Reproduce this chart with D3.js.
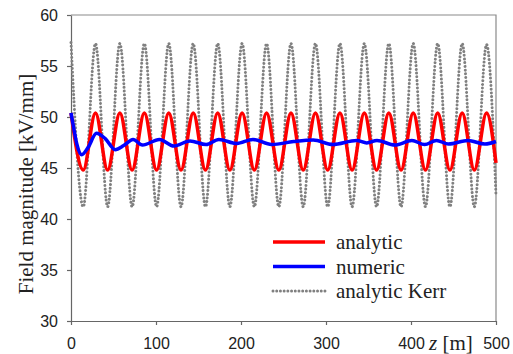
<!DOCTYPE html>
<html>
<head>
<meta charset="utf-8">
<script src="https://cdnjs.cloudflare.com/ajax/libs/d3/7.8.5/d3.min.js"></script>
<style>
body { margin: 0; background: #fff; }
</style>
</head>
<body>
<svg id="chart" width="513" height="354"></svg>
<script>
// peaks / troughs of the analytic solutions, z in m
var extremaZ = [0, 14.4, 28.8, 43.1, 57.5, 71.9, 86.3, 100.7, 115.0, 129.4, 143.8, 158.2,
	172.6, 186.9, 201.3, 215.7, 230.1, 244.5, 258.8, 273.2, 287.6, 302.0, 316.4, 330.7,
	345.1, 359.5, 373.9, 388.3, 402.6, 417.0, 431.4, 445.8, 460.2, 474.5, 488.9, 500];

var analyticVals = [50.4, 44.8, 50.4, 44.8, 50.4, 44.8, 50.4, 44.8, 50.4, 44.8, 50.4, 44.8,
	50.4, 44.8, 50.4, 44.8, 50.4, 44.8, 50.4, 44.8, 50.4, 44.8, 50.4, 44.8,
	50.4, 44.8, 50.4, 44.8, 50.4, 44.8, 50.4, 44.8, 50.4, 44.8, 50.4, 45.5];

var kerrVals = [57.3, 41.2, 57.2, 41.2, 57.2, 41.2, 57.2, 41.2, 57.2, 41.2, 57.2, 41.2,
	57.2, 41.2, 57.2, 41.2, 57.2, 41.2, 57.2, 41.2, 57.2, 41.2, 57.2, 41.2,
	57.2, 41.2, 57.2, 41.2, 57.2, 41.2, 57.2, 41.2, 57.2, 41.2, 57.1, 42.3];

var numericZ = [0, 3, 7, 12.6, 20, 30, 40, 52, 62, 73, 84, 104, 121, 140, 159, 174, 195,
	214, 236, 262, 285, 308, 336, 348, 360, 381, 401, 416, 430, 444, 467, 487, 500];
var numericVals = [50.4, 49.0, 47.3, 46.3, 47.0, 48.4, 47.9, 46.8, 47.2, 47.8, 47.25, 47.8,
	47.15, 47.65, 47.3, 47.8, 47.4, 47.8, 47.3, 47.6, 47.75, 47.3, 47.7, 47.45, 47.7,
	47.25, 47.7, 47.3, 47.7, 47.35, 47.7, 47.35, 47.6];

var xTicks = [0, 100, 200, 300, 400, 500];
var yTicks = [30, 35, 40, 45, 50, 55, 60];
var legendLabels = ["analytic", "numeric", "analytic Kerr"];

var svg = d3.select("#chart");

var x = d3.scaleLinear().domain([0, 500]).range([71, 496]);
var y = d3.scaleLinear().domain([30, 60]).range([321, 15]);

var sansFont = "'Liberation Sans', Arial, sans-serif";
var serifFont = "'Liberation Serif', 'Times New Roman', serif";

// frame (top + right)
svg.append("path")
	.attr("d", "M" + x(0) + "," + y(60) + "H" + x(500) + "V" + y(30))
	.attr("fill", "none")
	.attr("stroke", "#8a8a8a")
	.attr("stroke-width", 1.2);

var yAxis = svg.append("g")
	.attr("transform", "translate(" + x(0) + ",0)")
	.call(d3.axisLeft(y).tickValues(yTicks).tickSize(4).tickPadding(9).tickSizeOuter(0));

var xAxis = svg.append("g")
	.attr("transform", "translate(0," + y(30) + ")")
	.call(d3.axisBottom(x).tickValues(xTicks).tickSize(4).tickPadding(13).tickSizeOuter(0));

[yAxis, xAxis].forEach(function (g) {
	g.select(".domain").attr("stroke", "#666").attr("stroke-width", 1.2);
	g.selectAll(".tick line").attr("stroke", "#666").attr("stroke-width", 1.2);
	g.selectAll(".tick text")
		.style("font-family", sansFont)
		.style("font-size", "16px")
		.attr("fill", "#222");
});

// series
var analytic = extremaZ.map(function (z, i) { return [z, analyticVals[i]]; });
var kerr = extremaZ.map(function (z, i) { return [z, kerrVals[i]]; });
var numeric = numericZ.map(function (z, i) { return [z, numericVals[i]]; });

var line = d3.line()
	.x(function (d) { return x(d[0]); })
	.y(function (d) { return y(d[1]); })
	.curve(d3.curveMonotoneX);

svg.append("path")
	.datum(kerr)
	.attr("d", line)
	.attr("fill", "none")
	.attr("stroke", "#808080")
	.attr("stroke-width", 3)
	.attr("stroke-linecap", "round")
	.attr("stroke-dasharray", "0.01 3.7");

svg.append("path")
	.datum(analytic)
	.attr("d", line)
	.attr("fill", "none")
	.attr("stroke", "#ff0000")
	.attr("stroke-width", 3.5);

svg.append("path")
	.datum(numeric)
	.attr("d", line)
	.attr("fill", "none")
	.attr("stroke", "#0000ff")
	.attr("stroke-width", 3.5);

// x label
var xl = svg.append("text")
	.attr("x", 429)
	.attr("y", 350)
	.style("font-family", serifFont)
	.style("font-size", "21px")
	.attr("fill", "#222");
xl.append("tspan").style("font-style", "italic").text("z");
xl.append("tspan").text(" [m]");

// y label
svg.append("text")
	.attr("transform", "translate(33," + ((y(30) + y(60)) / 2 + 16) + ") rotate(-90)")
	.attr("text-anchor", "middle")
	.style("font-family", serifFont)
	.style("font-size", "21px")
	.attr("fill", "#222")
	.text("Field magnitude [kV/mm]");

// legend
var legendStyles = [
	{ color: "#ff0000", dash: null, width: 3.5 },
	{ color: "#0000ff", dash: null, width: 3.5 },
	{ color: "#808080", dash: "0.01 3.7", width: 3 }
];

var legend = svg.append("g").attr("transform", "translate(273,242)");

var item = legend.selectAll(".item")
	.data(legendLabels)
	.enter()
	.append("g")
	.attr("class", "item")
	.attr("transform", function (d, i) { return "translate(0," + (i * 24.5) + ")"; });

item.append("line")
	.attr("x1", 0).attr("x2", 52)
	.attr("stroke", function (d, i) { return legendStyles[i].color; })
	.attr("stroke-width", function (d, i) { return legendStyles[i].width; })
	.attr("stroke-linecap", function (d, i) { return legendStyles[i].dash ? "round" : "butt"; })
	.attr("stroke-dasharray", function (d, i) { return legendStyles[i].dash; });

item.append("text")
	.attr("x", 63)
	.attr("y", 7)
	.style("font-family", serifFont)
	.style("font-size", "21px")
	.attr("fill", "#222")
	.text(function (d) { return d; });
</script>
</body>
</html>
